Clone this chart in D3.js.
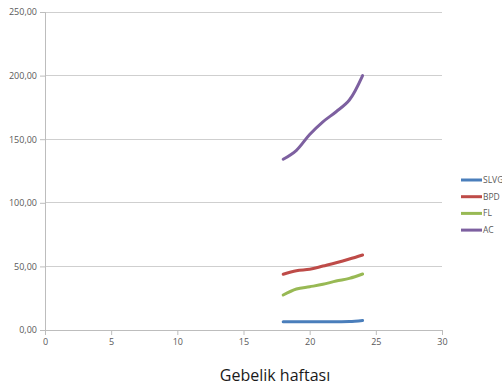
<!DOCTYPE html>
<html>
<head>
<meta charset="utf-8">
<script src="https://cdn.jsdelivr.net/npm/d3@7"></script>
<style>
  html, body { margin: 0; padding: 0; background: #fff; }
  svg { display: block; }
</style>
</head>
<body>
<svg id="chart" width="502" height="386"></svg>
<script>
// Gestational week (x) and fetal biometry measurements per series
const weeks = [18, 19, 20, 21, 22, 23, 24];
const slvg = [6.5, 6.5, 6.5, 6.5, 6.5, 6.6, 7.5];
const bpd = [43.8, 46.6, 47.7, 50.3, 52.9, 55.8, 59.0];
const fl = [27.5, 32.2, 34.0, 35.9, 38.5, 40.6, 44.0];
const ac = [134.2, 141.3, 153.7, 163.7, 171.6, 180.8, 200.0];

const seriesNames = ["SLVG", "BPD", "FL", "AC"];
const seriesColors = ["#4a7ebb", "#be4b48", "#98b954", "#7d60a0"];
const xTicks = [0, 5, 10, 15, 20, 25, 30];
const yTicks = [0, 50, 100, 150, 200, 250];
const xTitle = "Gebelik haftası";

const seriesValues = [slvg, bpd, fl, ac];

const svg = d3.select("#chart");
const x = d3.scaleLinear().domain([0, 30]).range([45, 442]);
const y = d3.scaleLinear().domain([0, 250]).range([330, 12]);

const fmt = v => d3.format(".2f")(v).replace(".", ",");

// horizontal gridlines
svg.append("g")
  .selectAll("line")
  .data(yTicks.filter(d => d > 0))
  .join("line")
  .attr("x1", x(0)).attr("x2", x(30))
  .attr("y1", d => y(d)).attr("y2", d => y(d))
  .attr("stroke", "#cfcfcf").attr("stroke-width", 1)
  .attr("shape-rendering", "crispEdges");

// y axis
const yAxis = svg.append("g")
  .attr("transform", `translate(${x(0)},0)`)
  .call(d3.axisLeft(y).tickValues(yTicks).tickFormat(fmt).tickSize(5).tickPadding(3));
yAxis.select(".domain").attr("stroke", "#bdbdbd");
yAxis.selectAll(".tick line").attr("stroke", "#bdbdbd");
yAxis.selectAll("text")
  .attr("fill", "#595959")
  .style("font-family", "'Open Sans', sans-serif")
  .style("font-size", "9px");

// x axis
const xAxis = svg.append("g")
  .attr("transform", `translate(0,${y(0)})`)
  .call(d3.axisBottom(x).tickValues(xTicks).tickSize(5).tickPadding(4));
xAxis.select(".domain").attr("stroke", "#bdbdbd");
xAxis.selectAll(".tick line").attr("stroke", "#bdbdbd");
xAxis.selectAll("text")
  .attr("fill", "#595959")
  .style("font-family", "'Open Sans', sans-serif")
  .style("font-size", "9px");

// x axis title
svg.append("text")
  .attr("x", 275).attr("y", 381)
  .attr("text-anchor", "middle")
  .attr("fill", "#1a1a1a")
  .style("font-family", "'Open Sans', sans-serif")
  .style("font-size", "16px")
  .text(xTitle);

// smoothed series lines
const line = d3.line()
  .x((d, i) => x(weeks[i]))
  .y(d => y(d))
  .curve(d3.curveCatmullRom.alpha(0.5));

svg.append("g")
  .selectAll("path")
  .data(seriesValues)
  .join("path")
  .attr("d", line)
  .attr("fill", "none")
  .attr("stroke", (d, i) => seriesColors[i])
  .attr("stroke-width", 3)
  .attr("stroke-linecap", "round")
  .attr("stroke-linejoin", "round");

// legend
const legend = svg.append("g")
  .selectAll("g")
  .data(seriesNames)
  .join("g")
  .attr("transform", (d, i) => `translate(461,${180 + i * 16.7})`);
legend.append("line")
  .attr("x1", 0).attr("x2", 21)
  .attr("stroke", (d, i) => seriesColors[i])
  .attr("stroke-width", 3);
legend.append("text")
  .attr("x", 22).attr("y", 3)
  .attr("fill", "#595959")
  .style("font-family", "'Open Sans', sans-serif")
  .style("font-size", "8.5px")
  .text(d => d);
</script>
</body>
</html>
